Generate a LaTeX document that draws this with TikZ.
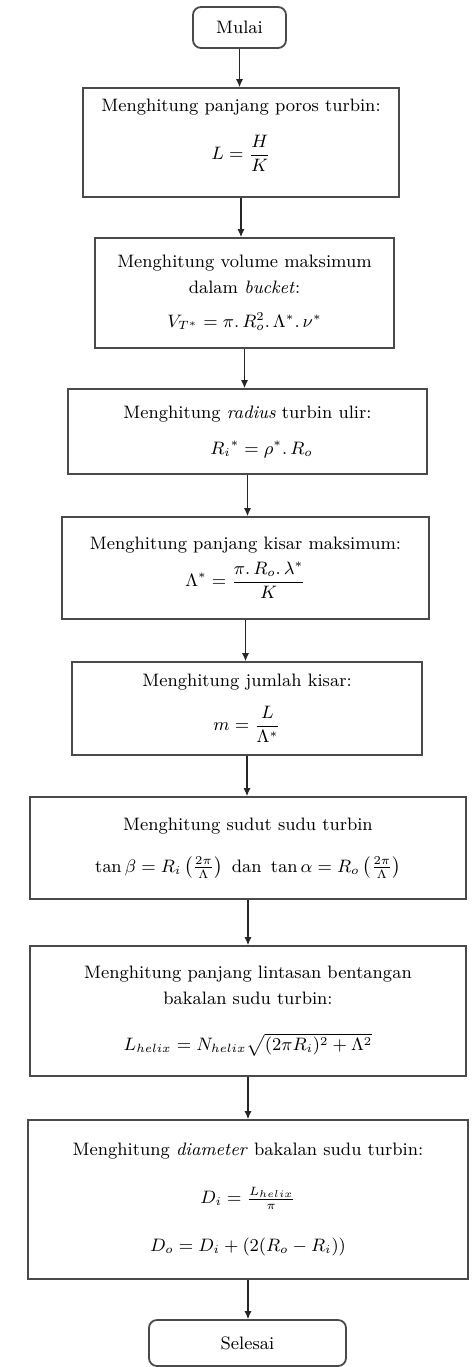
\documentclass[tikz,border=0pt]{standalone}
\usepackage{amsmath, amssymb}
\usepackage{xcolor}
\usepackage{tikz}
\usetikzlibrary{arrows.meta}
\definecolor{boxGray}{HTML}{4A4A4A}

\begin{document}
\begin{tikzpicture}[
    x=0.5pt, y=-0.5pt,
    every node/.style={font=\fontsize{9}{11}\selectfont},
    procbox/.style={draw=boxGray, line width=0.9pt, rectangle, align=center, inner sep=2pt},
    termbox/.style={procbox, rounded corners=4pt},
    flow/.style={-{Latex[length=4pt, width=3.6pt]}, line width=0.55pt, black!85}
  ]
  \useasboundingbox (0,0) rectangle (474,1367);

  % ── Start ──────────────────────────────────────────────────────────────
  \node[termbox, minimum width=46.5pt, minimum height=20.5pt] (mulai) at (239.5, 27.5) {Mulai};

  % ── Shaft length ───────────────────────────────────────────────────────
  \node[procbox, minimum width=158pt, minimum height=54.5pt] (poros) at (241, 142.5)
    {Menghitung panjang poros turbin:\\[9pt] $L=\dfrac{H}{K}$\\[2pt]};

  % ── Bucket volume ──────────────────────────────────────────────────────
  \node[procbox, minimum width=149.5pt, minimum height=55pt] (volume) at (244.5, 293)
    {Menghitung volume maksimum\\[2pt] dalam \textit{bucket}:\\[6pt]
     $V_{T^{*}} = \pi .\, R_{o}^{2} .\, \Lambda^{*} .\, \nu^{*}$};

  % ── Inner radius ───────────────────────────────────────────────────────
  \node[procbox, minimum width=179.5pt, minimum height=42.5pt] (radius) at (247.5, 431.5)
    {Menghitung \textit{radius} turbin ulir:\\[7pt] \hspace*{14pt}$R_i{}^{*} = \rho^{*} .\, R_o$};

  % ── Maximum pitch ──────────────────────────────────────────────────────
  \node[procbox, minimum width=183.5pt, minimum height=51pt] (kisar) at (245.5, 568)
    {Menghitung panjang kisar maksimum:\\[3pt] $\Lambda^{*} = \dfrac{\pi .\, R_o .\, \lambda^{*}}{K}$};

  % ── Number of pitches ──────────────────────────────────────────────────
  \node[procbox, minimum width=175pt, minimum height=46.5pt] (jumlah) at (247, 708.5)
    {Menghitung jumlah kisar:\\[7pt] $m = \dfrac{L}{\Lambda^{*}}$};

  % ── Blade angles ───────────────────────────────────────────────────────
  \node[procbox, minimum width=218pt, minimum height=51pt] (sudut) at (248, 848)
    {Menghitung sudut sudu turbin\\[10pt]
     $\tan\beta = R_i\left(\frac{2\pi}{\Lambda}\right) \text{ dan } \tan\alpha = R_o\left(\frac{2\pi}{\Lambda}\right)$};

  % ── Helix length ───────────────────────────────────────────────────────
  \node[procbox, minimum width=218pt, minimum height=65pt] (lintasan) at (248, 1011)
    {Menghitung panjang lintasan bentangan\\[2pt] bakalan sudu turbin:\\[12pt]
     $L_{helix} = N_{helix}\sqrt{(2\pi R_i)^2 + \Lambda^2}$};

  % ── Blank diameters ────────────────────────────────────────────────────
  \node[procbox, minimum width=220pt, minimum height=79.5pt] (diameter) at (248, 1199.5)
    {Menghitung \textit{diameter} bakalan sudu turbin:\\[13pt]
     $D_i = \frac{L_{helix}}{\pi}$\\[13pt]
     $D_o = D_i + (2(R_o - R_i))$};

  % ── End ────────────────────────────────────────────────────────────────
  \node[termbox, minimum width=98.5pt, minimum height=23pt] (selesai) at (247.5, 1343) {Selesai};

  \draw[flow] (mulai.south) -- (mulai.south |- poros.north);
  \draw[flow] (poros.south) -- (poros.south |- volume.north);
  \draw[flow] (volume.south) -- (volume.south |- radius.north);
  \draw[flow] (radius.south) -- (radius.south |- kisar.north);
  \draw[flow] (kisar.south) -- (kisar.south |- jumlah.north);
  \draw[flow] (jumlah.south) -- (jumlah.south |- sudut.north);
  \draw[flow] (sudut.south) -- (sudut.south |- lintasan.north);
  \draw[flow] (lintasan.south) -- (lintasan.south |- diameter.north);
  \draw[flow] (diameter.south) -- (diameter.south |- selesai.north);

\end{tikzpicture}
\end{document}
